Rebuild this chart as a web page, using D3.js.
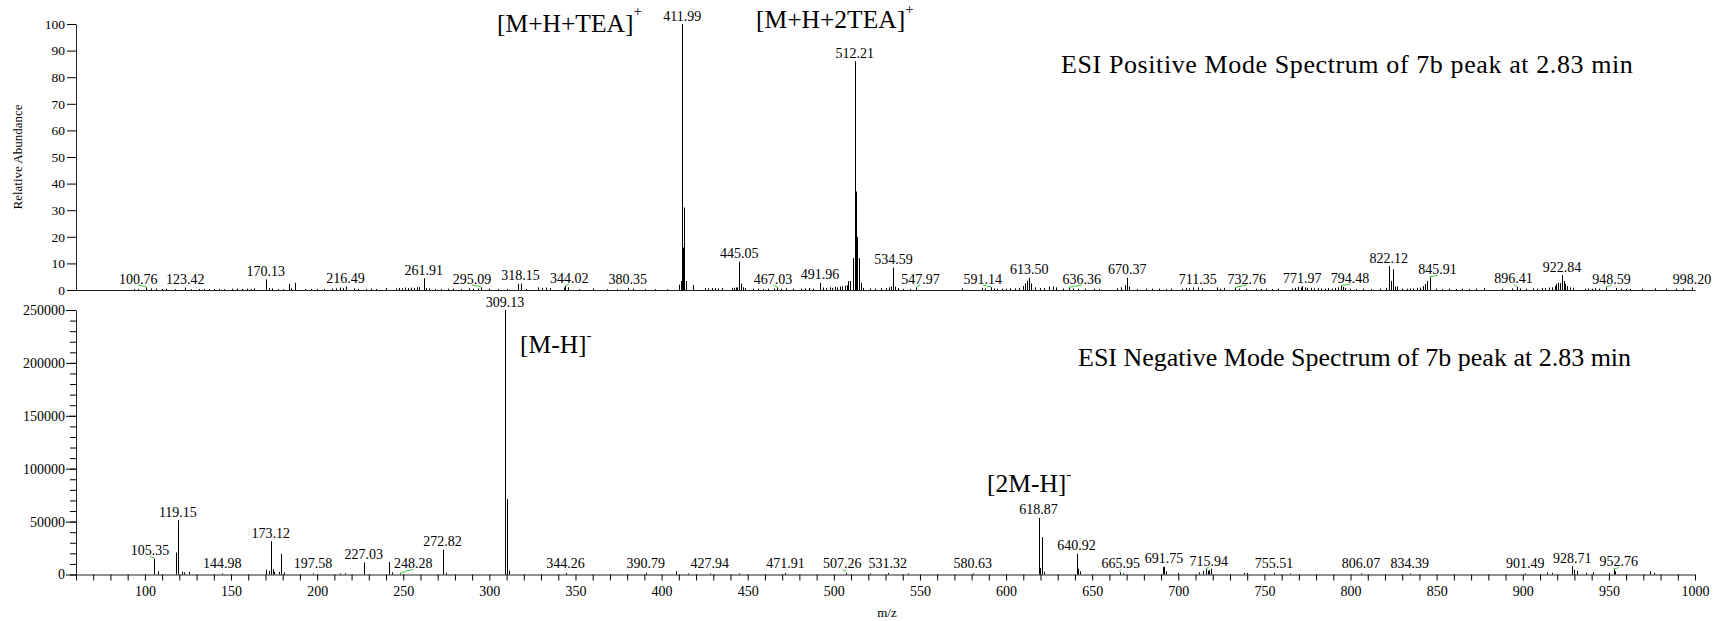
<!DOCTYPE html>
<html>
<head>
<meta charset="utf-8">
<script src="https://cdn.jsdelivr.net/npm/d3@7"></script>
<style>
body { margin: 0; background: #fff; }
text { font-family: "Liberation Serif", "Times New Roman", serif; fill: #000; }
</style>
</head>
<body>
<div id="chart"></div>
<script>
// positive mode: [m/z, relative abundance %]
var posPeaks = [
    [93.5,0.4],[96.2,0.3],[100.76,1.0],[103.3,0.6],[106.2,0.5],[110.1,0.4],[112.0,0.5],[117.4,0.3],
    [123.42,0.9],[127.0,0.3],[131.5,0.4],[134.4,0.4],[137.0,0.3],[140.0,0.4],[143.0,0.4],[146.0,0.3],
    [150.6,0.5],[153.5,0.5],[156.5,0.4],[159.0,0.5],[161.5,0.4],[163.4,0.6],[170.13,4.0],[172.1,0.8],
    [173.7,0.6],[177.0,0.3],[180.0,0.3],[183.7,2.3],[185.0,0.6],[187.3,2.7],[192.9,0.4],[196.5,0.4],
    [200.0,0.4],[204.0,0.4],[208.8,0.5],[211.0,0.6],[213.5,0.9],[214.8,0.7],[216.49,1.3],[221.5,0.6],
    [224.0,0.4],[228.5,0.4],[231.5,0.5],[234.3,0.4],[240.0,0.8],[245.7,0.6],[247.5,0.8],[249.3,0.6],
    [251.0,0.9],[252.8,0.7],[254.5,0.9],[256.3,0.8],[257.8,1.0],[259.3,1.1],[261.91,4.4],[263.0,0.8],
    [265.1,0.6],[268.5,0.4],[272.0,0.4],[276.1,0.5],[279.0,0.5],[283.5,0.4],[288.3,0.6],[290.6,0.5],
    [293.2,0.6],[295.09,1.0],[299.9,0.5],[304.8,0.4],[310.0,0.4],[316.4,2.3],[318.15,2.4],[321.5,0.4],
    [328.4,1.0],[330.5,0.8],[332.8,0.9],[335.2,0.7],[343.3,0.9],[344.02,1.5],[345.8,1.0],[352.0,0.3],
    [360.3,0.6],[368.5,0.3],[374.0,0.3],[380.35,0.8],[383.5,0.5],[390.5,0.3],[396.0,0.3],[403.0,0.3],
    [410.2,2.0],[411.3,3.4],[411.99,100],[412.6,16],[413.2,31],[414.3,3.4],[418.5,1.9],
    [425.2,0.8],[427.0,0.6],[429.0,0.7],[431.0,0.8],[433.0,0.6],[434.9,0.8],[440.6,0.8],[441.8,0.8],
    [443.0,0.9],[444.0,1.0],[445.05,10.6],[446.2,2.4],[447.3,1.0],[448.3,0.8],[453.2,0.5],[456.0,0.5],
    [459.0,0.4],[462.0,0.5],[465.5,0.6],[467.03,1.0],[469.5,0.5],[472.5,0.6],[476.5,0.5],[481.0,0.5],
    [483.2,0.6],[485.5,0.8],[488.0,0.5],[491.96,2.7],[493.7,0.9],[495.5,0.7],[497.5,1.0],[499.0,0.8],
    [500.5,1.2],[502.0,1.0],[503.5,1.3],[505.0,1.4],[506.5,1.6],[507.6,1.8],[508.5,3.4],[509.4,3.4],
    [510.9,12],[512.21,86],[512.9,37],[513.7,20],[514.5,12],[515.8,2.7],[517.0,0.8],
    [521.0,0.6],[524.0,0.5],[527.5,0.6],[530.5,0.8],[532.0,1.0],[533.3,1.3],[534.59,8.4],[535.8,1.3],
    [537.0,0.8],[540.0,0.4],[544.0,0.4],[547.97,1.0],[574.2,0.7],[585.8,0.8],[588.0,0.6],[591.14,1.0],
    [593.0,0.6],[595.0,0.5],[597.5,0.5],[600.0,0.5],[602.5,0.6],[605.0,0.6],[607.5,0.8],[609.9,1.5],
    [611.0,2.5],[612.3,3.5],[613.50,4.6],[614.6,2.5],[616.6,1.0],[619.5,0.7],[622.0,0.8],[625.0,1.3],
    [627.0,1.3],[629.0,1.0],[633.0,0.5],[636.36,0.8],[639.0,0.6],[642.0,0.5],[646.0,0.5],[651.0,0.5],
    [654.0,0.4],[664.6,0.6],[667.0,1.0],[668.8,1.8],[670.37,4.6],[671.6,1.3],[676.0,0.4],[681.0,0.5],
    [685.0,0.5],[689.0,0.5],[693.0,0.4],[696.0,0.5],[702.0,0.5],[704.5,0.8],[706.5,0.6],[708.5,1.0],
    [711.35,1.0],[713.8,0.6],[722.7,1.0],[724.5,0.5],[726.6,0.8],[732.76,0.7],[735.0,0.5],[739.3,0.5],
    [745.0,0.5],[748.0,0.4],[751.0,0.5],[754.5,0.4],[757.8,0.5],[766.0,0.5],[768.0,0.8],[769.5,1.2],
    [771.0,1.0],[771.97,1.5],[773.5,1.0],[775.0,0.8],[777.0,0.8],[779.0,0.6],[781.0,0.7],[783.0,0.6],
    [785.0,0.5],[787.0,0.7],[789.0,0.5],[791.0,0.8],[792.5,1.0],[794.48,1.5],[795.5,1.2],[797.0,0.8],
    [799.6,0.5],[803.0,0.4],[807.4,0.5],[812.0,0.4],[817.0,0.5],[820.6,0.8],[822.12,9.0],[823.7,3.4],
    [824.6,7.8],[825.8,1.3],[826.8,1.3],[830.0,0.5],[832.5,0.5],[834.5,0.6],[836.5,0.6],[838.5,0.8],
    [840.2,0.9],[842.2,1.5],[843.4,2.3],[844.6,3.4],[845.91,4.8],[849.5,0.5],[853.0,0.4],[857.0,0.5],
    [861.0,0.4],[865.0,0.5],[869.0,0.4],[872.7,0.5],[877.6,0.8],[888.0,0.5],[893.9,0.6],[896.41,1.2],
    [898.5,0.6],[901.8,0.5],[905.8,0.6],[908.5,0.5],[911.0,0.8],[913.0,0.7],[915.0,0.9],[917.0,1.0],
    [918.5,1.5],[919.5,2.3],[920.5,2.7],[921.6,2.7],[922.84,5.6],[923.8,3.4],[924.8,2.3],[925.8,1.5],
    [927.5,1.0],[929.0,0.8],[936.0,0.5],[938.0,0.6],[940.0,0.5],[942.0,0.7],[944.5,0.5],[948.59,1.0],
    [954.4,0.8],[957.0,0.5],[960.0,0.5],[962.0,0.4],[969.0,0.5],[977.0,0.6],[983.0,0.5],[989.0,0.5],
    [993.0,0.5],[998.20,1.0]
];
var posLabelMz = [100.76,123.42,170.13,216.49,261.91,295.09,318.15,344.02,380.35,411.99,445.05,
    467.03,491.96,512.21,534.59,547.97,591.14,613.50,636.36,670.37,711.35,732.76,771.97,794.48,
    822.12,845.91,896.41,922.84,948.59,998.20];

// negative mode: [m/z, intensity]
var negPeaks = [
    [105.35,15100],[107.4,3000],[118.0,20800],[119.15,51400],[121.5,2500],[122.5,2000],[125.5,2500],
    [144.98,1000],[170.5,4500],[172.0,3500],[173.12,31500],[174.2,5000],[175.0,2500],[177.8,2500],
    [178.9,19500],[180.5,2000],[197.58,1000],[213.0,1000],[216.0,1200],[227.03,11400],[241.9,11900],
    [243.5,2000],[248.28,1000],[272.82,23300],[275.0,1500],[309.13,250000],[310.1,12000],[310.5,71200],
    [311.4,3500],[344.26,1500],[390.79,1500],[408.3,3100],[415.4,1000],[427.94,1000],[445.0,1000],
    [471.91,1500],[507.26,1500],[521.0,1000],[531.32,1500],[543.0,1000],[580.63,1000],[618.87,53500],
    [619.8,6200],[620.8,35300],[622.0,2500],[640.92,19500],[642.0,5500],[643.0,3000],[665.95,2000],
    [668.0,1000],[691.0,7000],[691.75,7200],[693.0,3000],[700.0,1500],[712.0,2000],[714.5,3500],
    [715.94,5000],[717.0,3500],[718.0,4000],[719.0,5500],[738.0,1500],[740.0,1500],[755.51,1500],
    [765.0,1000],[806.07,1000],[834.39,1000],[901.49,1000],[914.0,2000],[917.0,1500],[928.71,7800],
    [930.0,4500],[931.5,3500],[937.0,1500],[941.0,2000],[950.0,1500],[952.76,4700],[953.5,3000],
    [974.0,3000],[976.0,1500]
];
var negLabelMz = [105.35,119.15,144.98,173.12,197.58,227.03,248.28,272.82,309.13,344.26,390.79,
    427.94,471.91,507.26,531.32,580.63,618.87,640.92,665.95,691.75,715.94,755.51,806.07,834.39,
    901.49,928.71,952.76];

var mzTicks = d3.range(60, 1001, 10);
var posTicks = d3.range(0, 101, 10);
var negTicks = d3.range(0, 250001, 50000);
var negMinorTicks = d3.range(0, 250001, 10000);

// labels that were pushed sideways (with green leader)
var labelShift = {
    "100.76": -8, "295.09": -9, "344.02": 4, "467.03": -4, "547.97": 4, "591.14": -8,
    "636.36": 13, "732.76": 12, "794.48": 9, "845.91": 8, "896.41": -3, "948.59": 5,
    "105.35": -4, "248.28": 13, "507.26": -4, "665.95": 1, "715.94": 3, "952.76": 5
};

var width = 1715, height = 621;

var svg = d3.select("#chart").append("svg")
    .attr("width", width)
    .attr("height", height);

var x = d3.scaleLinear().domain([60, 1000]).range([76, 1695]);
var yPos = d3.scaleLinear().domain([0, 100]).range([290, 24]);
var yNeg = d3.scaleLinear().domain([0, 250000]).range([574.5, 310]);

var fmt = d3.format(".2f");

function drawPanel(peaks, labels, y) {
    var g = svg.append("g");

    g.selectAll("line.peak")
        .data(peaks)
        .enter().append("line")
        .attr("class", "peak")
        .attr("x1", function(d) { return Math.round(x(d[0])) + 0.5; })
        .attr("x2", function(d) { return Math.round(x(d[0])) + 0.5; })
        .attr("y1", y(0))
        .attr("y2", function(d) { return y(d[1]); })
        .attr("stroke", "#000")
        .attr("stroke-width", 1);

    var lab = peaks.filter(function(d) { return labels.indexOf(d[0]) >= 0; });

    lab.forEach(function(d) {
        var dx = labelShift[fmt(d[0])] || 0;
        var px = x(d[0]);
        var top = y(d[1]);
        var base = Math.min(top - 3.5, y(0) - 6.5);
        if (dx) {
            g.append("path")
                .attr("d", "M" + px + "," + (top - 0.5) + "Q" + (px + dx * 0.5) + "," + (base + 2.5) +
                    " " + (px + dx) + "," + (base + 1.5))
                .attr("fill", "none")
                .attr("stroke", "#3c3")
                .attr("stroke-width", 1);
        }
        g.append("text")
            .attr("x", px + dx)
            .attr("y", base)
            .attr("text-anchor", "middle")
            .attr("font-size", "14px")
            .text(fmt(d[0]));
    });
    return g;
}

// top panel
drawPanel(posPeaks, posLabelMz, yPos);

svg.append("g")
    .attr("transform", "translate(0," + yPos(0) + ")")
    .call(d3.axisBottom(x).tickValues([]).tickSizeOuter(0))
    .call(function(g) { g.select(".domain").attr("stroke", "#222"); });

svg.append("g")
    .attr("transform", "translate(" + x(60) + ",0)")
    .call(d3.axisLeft(yPos).tickValues(posTicks).tickSize(9).tickPadding(2).tickSizeOuter(0))
    .call(function(g) {
        g.select(".domain").attr("stroke", "#222");
        g.selectAll("text").attr("font-size", "13.5px").attr("font-family", null);
    });

// bottom panel
drawPanel(negPeaks, negLabelMz, yNeg);

svg.append("g")
    .attr("transform", "translate(0," + yNeg(0) + ")")
    .call(d3.axisBottom(x).tickValues(mzTicks).tickSize(6).tickPadding(6).tickSizeOuter(0)
        .tickFormat(function(d) { return (d % 50 === 0 && d >= 100) ? d : ""; }))
    .call(function(g) {
        g.select(".domain").attr("stroke", "#222");
        g.selectAll("text").attr("font-size", "14px").attr("font-family", null);
    });

svg.append("g")
    .attr("transform", "translate(" + x(60) + ",0)")
    .call(d3.axisLeft(yNeg).tickValues(negMinorTicks).tickSize(6).tickFormat("").tickSizeOuter(0))
    .call(function(g) { g.select(".domain").attr("stroke", "#222"); });

svg.append("g")
    .attr("transform", "translate(" + x(60) + ",0)")
    .call(d3.axisLeft(yNeg).tickValues(negTicks).tickSize(10).tickPadding(1).tickSizeOuter(0)
        .tickFormat(d3.format("d")))
    .call(function(g) {
        g.select(".domain").remove();
        g.selectAll("text").attr("font-size", "14px").attr("font-family", null);
    });

// axis titles
svg.append("text")
    .attr("transform", "translate(22,157) rotate(-90)")
    .attr("text-anchor", "middle")
    .attr("font-size", "13px")
    .text("Relative Abundance");

svg.append("text")
    .attr("x", 887)
    .attr("y", 617)
    .attr("text-anchor", "middle")
    .attr("font-size", "13px")
    .text("m/z");

// spectrum titles
svg.append("text")
    .attr("x", 1061).attr("y", 73)
    .attr("font-size", "26px")
    .attr("letter-spacing", "0.6px")
    .text("ESI Positive Mode Spectrum of 7b peak at 2.83 min");

svg.append("text")
    .attr("x", 1078).attr("y", 366)
    .attr("font-size", "26px")
    .text("ESI Negative Mode Spectrum of 7b peak at 2.83 min");

// ion annotations
function ion(tx, ty, main, sup, dy) {
    var t = svg.append("text")
        .attr("x", tx).attr("y", ty)
        .attr("font-size", "25.5px");
    t.append("tspan").text(main);
    t.append("tspan").attr("dy", dy).attr("font-size", "15px").text(sup);
}

ion(497, 31.5, "[M+H+TEA]", "+", -16);
ion(756, 27.5, "[M+H+2TEA]", "+", -14);
ion(520, 353, "[M-H]", "-", -13);
ion(987, 491.5, "[2M-H]", "-", -13);
</script>
</body>
</html>
